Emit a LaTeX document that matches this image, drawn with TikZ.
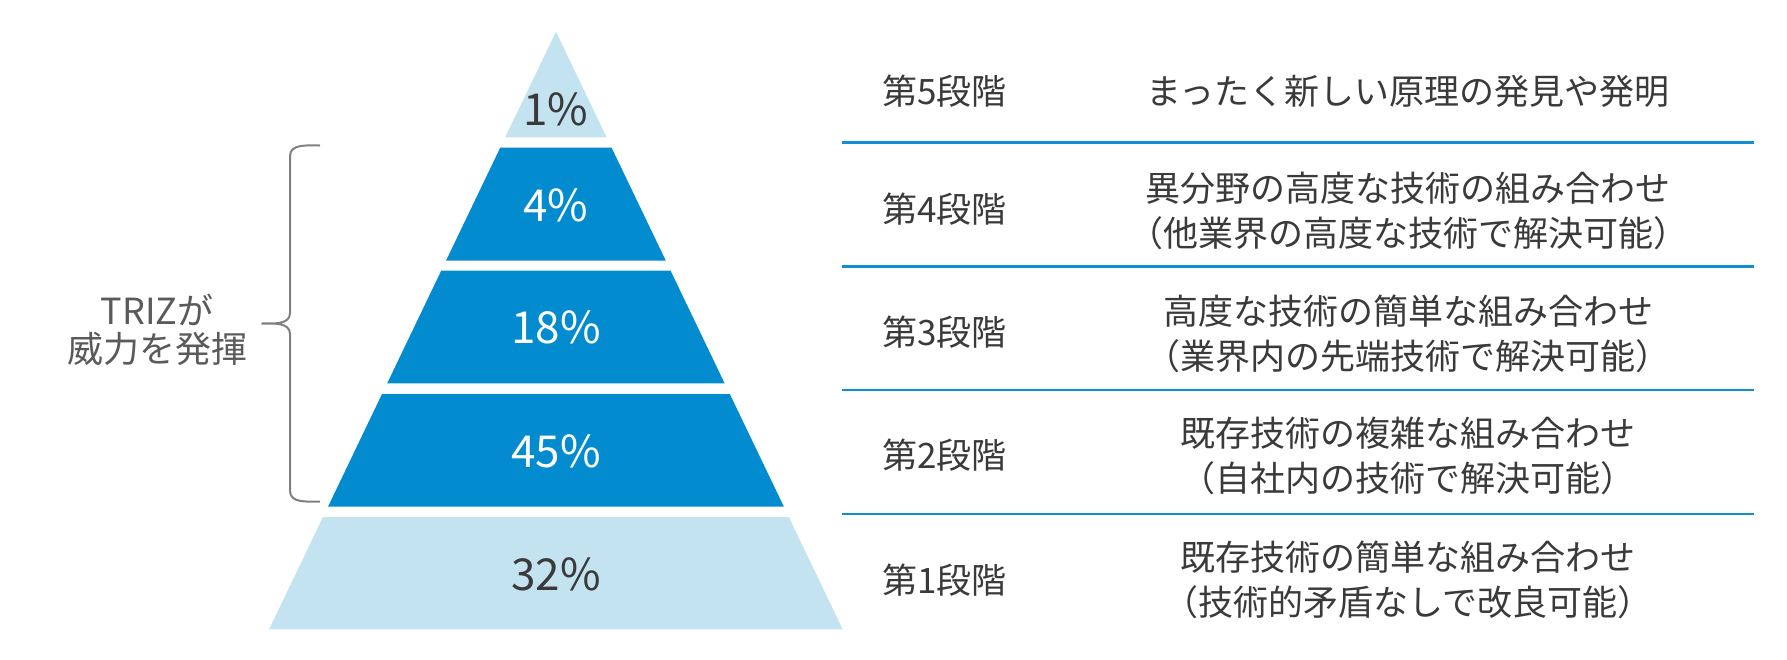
\documentclass[tikz,border=0pt]{standalone}
\usepackage{fontspec}
\setmainfont{Noto Sans CJK JP}
\definecolor{darkblue}{HTML}{028CCF}
\definecolor{lightblue}{HTML}{C4E3F0}
\definecolor{txtdark}{HTML}{3A3A3A}
\definecolor{txtgray}{HTML}{5A5A5A}
\definecolor{linegray}{HTML}{808080}
\definecolor{lineblue}{HTML}{118FD3}
\tikzset{
  pct/.style={font=\fontsize{44}{50}\selectfont, inner sep=0pt, anchor=center},
  pctlight/.style={pct, text=txtdark},
  pctdark/.style={pct, text=white},
  stagelbl/.style={font=\fontsize{35}{45}\selectfont, text=txtdark, inner sep=0pt, anchor=center},
  desc/.style={font=\fontsize{35}{45}\selectfont, text=txtdark, inner sep=0pt, anchor=center, align=center},
  sepline/.style={draw=lineblue, line width=2.5pt},
  brace/.style={draw=linegray, line width=2pt},
}
\begin{document}
\begin{tikzpicture}[x=1pt,y=-1pt]
\useasboundingbox (0,0) rectangle (1787,659);
% pyramid tiers
\fill[lightblue] (556,31.7) -- (606.6,137.3) -- (505.2,137.3) -- cycle;
\fill[darkblue] (500.2,147.7) -- (611.6,147.7) -- (665.8,260.7) -- (446.0,260.7) -- cycle;
\fill[darkblue] (441.2,270.7) -- (670.6,270.7) -- (724.6,383.3) -- (387.2,383.3) -- cycle;
\fill[darkblue] (382.0,394.0) -- (729.8,394.0) -- (783.9,506.7) -- (328.0,506.7) -- cycle;
\fill[lightblue] (323.0,517.0) -- (788.8,517.0) -- (842.7,629.3) -- (269.1,629.3) -- cycle;
% percentages
\node[pctlight] (p5) at (556,109) {1\%};
\node[pctdark]  (p4) at (556,205) {4\%};
\node[pctdark]  (p3) at (556,327) {18\%};
\node[pctdark]  (p2) at (556,451) {45\%};
\node[pctlight] (p1) at (556,574) {32\%};
% brace
\coordinate (bt) at (320,145.5);
\coordinate (bm) at (261.5,323.5);
\coordinate (bb) at (320,501.5);
\draw[brace] (bt) to[out=180,in=90] (290,156) -- (290,313) to[out=-90,in=0] (bm)
  to[out=0,in=90] (290,334) -- (290,491) to[out=-90,in=180] (bb);
\node[font=\fontsize{36}{38}\selectfont, text=txtgray, align=center, inner sep=0pt] (triz) at (157,330) {TRIZが\\威力を発揮};
% separator lines
\coordinate (l1a) at (841.6,142.7); \coordinate (l1b) at (1754.3,142.7);
\coordinate (l2a) at (841.6,266.7); \coordinate (l2b) at (1754.3,266.7);
\coordinate (l3a) at (841.6,390.0); \coordinate (l3b) at (1754.3,390.0);
\coordinate (l4a) at (841.6,514.0); \coordinate (l4b) at (1754.3,514.0);
\draw[sepline] (l1a) -- (l1b);
\draw[sepline] (l2a) -- (l2b);
\draw[sepline] (l3a) -- (l3b);
\draw[sepline] (l4a) -- (l4b);
% stage labels
\node[stagelbl] (s5) at (944.5,91) {第5段階};
\node[stagelbl] (s4) at (944.5,209) {第4段階};
\node[stagelbl] (s3) at (944.5,332) {第3段階};
\node[stagelbl] (s2) at (944.5,455) {第2段階};
\node[stagelbl] (s1) at (944.5,580) {第1段階};
% descriptions
\node[desc] (d5) at (1408,91) {まったく新しい原理の発見や発明};
\node[desc] (d4) at (1408,211) {異分野の高度な技術の組み合わせ\\（他業界の高度な技術で解決可能）};
\node[desc] (d3) at (1408,334) {高度な技術の簡単な組み合わせ\\（業界内の先端技術で解決可能）};
\node[desc] (d2) at (1408,456) {既存技術の複雑な組み合わせ\\（自社内の技術で解決可能）};
\node[desc] (d1) at (1408,579.5) {既存技術の簡単な組み合わせ\\（技術的矛盾なしで改良可能）};
\end{tikzpicture}
\end{document}
